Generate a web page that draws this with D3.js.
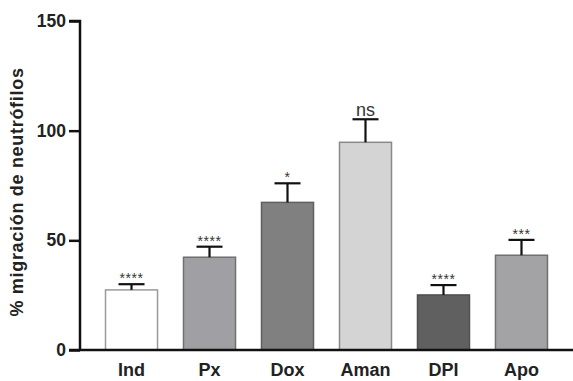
<!DOCTYPE html>
<html>
<head>
<meta charset="utf-8">
<script src="https://cdn.jsdelivr.net/npm/d3@7"></script>
<style>
  body { margin: 0; background: #fff; }
  svg { display: block; font-family: "Liberation Sans", Arial, sans-serif; }
</style>
</head>
<body>
<svg id="chart" width="573" height="381"></svg>
<script>
var groups = ["Ind", "Px", "Dox", "Aman", "DPI", "Apo"];
var means = [27.4, 42.3, 67.3, 94.7, 25.1, 43.2];
var errors = [2.6, 4.8, 8.7, 10.5, 4.5, 7.0];
var marks = ["****", "****", "*", "ns", "****", "***"];
var fills = ["#ffffff", "#a0a0a4", "#808080", "#d4d4d4", "#606060", "#a3a3a6"];
var strokes = ["#9a9a9a", "#707070", "#606060", "#8a8a8a", "#505050", "#707070"];
var yTicks = [0, 50, 100, 150];

var svg = d3.select('#chart');

var x = d3.scaleBand()
  .domain(groups)
  .range([80, 573])
  .paddingInner(0.333)
  .paddingOuter(0.327);

var y = d3.scaleLinear()
  .domain([0, 150])
  .range([350, 21]);

// bars
svg.selectAll('rect.bar')
  .data(groups)
  .enter()
  .append('rect')
  .attr('class', 'bar')
  .attr('x', function(d) { return x(d); })
  .attr('y', function(d, i) { return y(means[i]); })
  .attr('width', x.bandwidth())
  .attr('height', function(d, i) { return y(0) - y(means[i]); })
  .attr('fill', function(d, i) { return fills[i]; })
  .attr('stroke', function(d, i) { return strokes[i]; })
  .attr('stroke-width', 1.5);

// error bars (upper only)
var err = svg.selectAll('g.err')
  .data(groups)
  .enter()
  .append('g')
  .attr('class', 'err')
  .attr('stroke', '#111')
  .attr('stroke-width', 2.2);

err.append('line')
  .attr('x1', function(d) { return x(d) + x.bandwidth() / 2; })
  .attr('x2', function(d) { return x(d) + x.bandwidth() / 2; })
  .attr('y1', function(d, i) { return y(means[i]); })
  .attr('y2', function(d, i) { return y(means[i] + errors[i]); });

err.append('line')
  .attr('x1', function(d) { return x(d) + x.bandwidth() / 2 - 13; })
  .attr('x2', function(d) { return x(d) + x.bandwidth() / 2 + 13; })
  .attr('y1', function(d, i) { return y(means[i] + errors[i]); })
  .attr('y2', function(d, i) { return y(means[i] + errors[i]); });

// significance marks
svg.selectAll('text.mark')
  .data(groups)
  .enter()
  .append('text')
  .attr('class', 'mark')
  .attr('x', function(d) { return x(d) + x.bandwidth() / 2; })
  .attr('y', function(d, i) { return y(means[i] + errors[i]) - (marks[i] == 'ns' ? 3 : 1); })
  .attr('text-anchor', 'middle')
  .attr('font-size', function(d, i) { return marks[i] == 'ns' ? '18px' : '14px'; })
  .attr('letter-spacing', function(d, i) { return marks[i] == 'ns' ? '0px' : '0.5px'; })
  .attr('fill', '#333')
  .text(function(d, i) { return marks[i]; });

// axes
var yAxis = svg.append('g')
  .attr('transform', 'translate(80,0)')
  .call(d3.axisLeft(y).tickValues(yTicks).tickSize(11).tickPadding(3));

yAxis.select('.domain').attr('stroke', '#111').attr('stroke-width', 2.5)
  .attr('d', 'M-11,' + y(150) + 'H0V' + y(0));
yAxis.selectAll('.tick line').attr('stroke', '#111').attr('stroke-width', 2.5);
yAxis.selectAll('.tick text')
  .attr('font-size', '17.5px')
  .attr('font-weight', 'bold')
  .attr('fill', '#222')
  .attr('font-family', '"Liberation Sans", Arial, sans-serif');

var xAxis = svg.append('g')
  .attr('transform', 'translate(0,350)')
  .call(d3.axisBottom(x).tickSize(0).tickPadding(13));

xAxis.select('.domain').attr('stroke', '#111').attr('stroke-width', 2.5)
  .attr('d', 'M69,0H573');
xAxis.selectAll('.tick text')
  .attr('font-size', '18px')
  .attr('font-weight', 'bold')
  .attr('fill', '#222')
  .attr('font-family', '"Liberation Sans", Arial, sans-serif');

// y title
svg.append('text')
  .attr('transform', 'translate(23,192) rotate(-90)')
  .attr('text-anchor', 'middle')
  .attr('font-size', '18px')
  .attr('font-weight', 'bold')
  .attr('letter-spacing', '0.7px')
  .attr('fill', '#222')
  .text('% migración de neutrófilos');
</script>
</body>
</html>
